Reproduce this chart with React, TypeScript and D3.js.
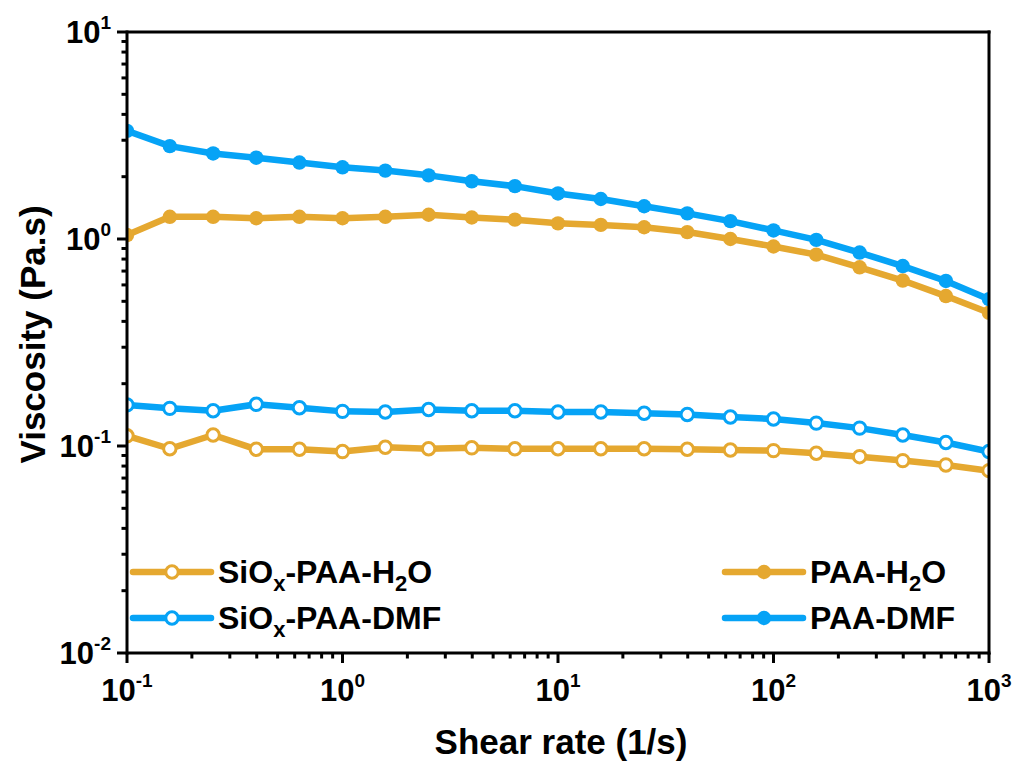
import React from "react";
import * as d3 from "d3";

const shearRates = [0.1, 0.158, 0.251, 0.398, 0.631, 1, 1.58, 2.51, 3.98, 6.31, 10, 15.8, 25.1, 39.8, 63.1, 100, 158, 251, 398, 631, 1000];

const paaDMF = [3.33, 2.81, 2.59, 2.47, 2.34, 2.22, 2.14, 2.03, 1.9, 1.8, 1.66, 1.56, 1.44, 1.33, 1.22, 1.1, 0.99, 0.86, 0.74, 0.627, 0.512];
const paaH2O = [1.045, 1.28, 1.28, 1.26, 1.28, 1.26, 1.28, 1.31, 1.27, 1.24, 1.19, 1.17, 1.14, 1.08, 1.0, 0.92, 0.84, 0.73, 0.63, 0.53, 0.44];
const siDMF = [0.158, 0.152, 0.148, 0.159, 0.153, 0.147, 0.146, 0.15, 0.148, 0.148, 0.146, 0.146, 0.144, 0.142, 0.138, 0.135, 0.129, 0.122, 0.113, 0.104, 0.094];
const siH2O = [0.112, 0.097, 0.113, 0.0964, 0.0964, 0.094, 0.0986, 0.097, 0.098, 0.097, 0.097, 0.097, 0.097, 0.0964, 0.0957, 0.095, 0.0923, 0.0888, 0.085, 0.081, 0.076];

const xTickExps = [-1, 0, 1, 2, 3];
const yTickExps = [-2, -1, 0, 1];

const ORANGE = "#E5A830";
const BLUE = "#06A3F6";
const FONT = "'Liberation Sans', Arial, Helvetica, sans-serif";

const series = [
  { name: "SiOx-PAA-H2O", values: siH2O, color: ORANGE, open: true },
  { name: "SiOx-PAA-DMF", values: siDMF, color: BLUE, open: true },
  { name: "PAA-H2O", values: paaH2O, color: ORANGE, open: false },
  { name: "PAA-DMF", values: paaDMF, color: BLUE, open: false },
];

const L = 127, R = 989, T = 32, B = 653;

export default function App() {
  const x = d3.scaleLog().domain([0.1, 1000]).range([L, R]);
  const y = d3.scaleLog().domain([0.01, 10]).range([B, T]);
  const line = d3
    .line<number>()
    .x((_, i) => x(shearRates[i]))
    .y((v) => y(v));

  const xMinor: number[] = [];
  for (let e = -1; e < 3; e++) for (let k = 2; k <= 9; k++) xMinor.push(k * Math.pow(10, e));
  const yMinor: number[] = [];
  for (let e = -2; e < 1; e++) for (let k = 2; k <= 9; k++) yMinor.push(k * Math.pow(10, e));

  const expLabel = (e: number) => (e < 0 ? "-" + Math.abs(e) : String(e));

  const marker = (cx: number, cy: number, color: string, open: boolean, key?: any) =>
    open ? (
      <circle key={key} cx={cx} cy={cy} r={6.2} fill="#fff" stroke={color} strokeWidth={3} />
    ) : (
      <circle key={key} cx={cx} cy={cy} r={7.2} fill={color} />
    );

  const SUB = 22;
  const DY = 8;
  const legendLabel = (name: string) => {
    if (name === "SiOx-PAA-H2O")
      return (
        <>
          SiO<tspan fontSize={SUB} dy={DY}>x</tspan>
          <tspan dy={-DY}>-PAA-H</tspan>
          <tspan fontSize={SUB} dy={DY}>2</tspan>
          <tspan dy={-DY}>O</tspan>
        </>
      );
    if (name === "SiOx-PAA-DMF")
      return (
        <>
          SiO<tspan fontSize={SUB} dy={DY}>x</tspan>
          <tspan dy={-DY}>-PAA-DMF</tspan>
        </>
      );
    if (name === "PAA-H2O")
      return (
        <>
          PAA-H<tspan fontSize={SUB} dy={DY}>2</tspan>
          <tspan dy={-DY}>O</tspan>
        </>
      );
    return <>{name}</>;
  };

  const legendPos = [
    { lx: 133, ly: 572 },
    { lx: 133, ly: 618 },
    { lx: 725, ly: 572 },
    { lx: 725, ly: 618 },
  ];

  return (
    <svg
      width={1017}
      height={762}
      style={{ position: "absolute", left: 0, top: 0, background: "#fff" }}
      fontFamily={FONT}
      fontWeight="bold"
    >
      <defs>
        <clipPath id="plotClip">
          <rect x={L} y={T} width={R - L} height={B - T} />
        </clipPath>
      </defs>
      <rect x={0} y={0} width={1017} height={762} fill="#fff" />

      <g clipPath="url(#plotClip)">
        {series.map((s) => (
          <g key={s.name}>
            <path d={line(s.values) || ""} fill="none" stroke={s.color} strokeWidth={6.5} strokeLinejoin="round" />
            {s.values.map((v, i) => marker(x(shearRates[i]), y(v), s.color, s.open, i))}
          </g>
        ))}
      </g>

      {/* legend */}
      {series.map((s, i) => {
        const p = legendPos[i];
        return (
          <g key={"leg" + s.name}>
            <line x1={p.lx} x2={p.lx + 78} y1={p.ly} y2={p.ly} stroke={s.color} strokeWidth={6.5} strokeLinecap="round" />
            {marker(p.lx + 39, p.ly, s.color, s.open)}
            <text x={p.lx + 85} y={p.ly + 11} fontSize={32} fill="#000">
              {legendLabel(s.name)}
            </text>
          </g>
        );
      })}

      {/* axes frame */}
      <g stroke="#000" strokeWidth={3} fill="none">
        <line x1={L} x2={R + 1.5} y1={T} y2={T} />
        <line x1={L} x2={R + 1.5} y1={B} y2={B} />
        <line x1={L} x2={L} y1={T - 1.5} y2={B + 1.5} />
        <line x1={R} x2={R} y1={T - 1.5} y2={B + 1.5} />
        {xTickExps.map((e) => (
          <line key={"xt" + e} x1={x(Math.pow(10, e))} x2={x(Math.pow(10, e))} y1={B} y2={B + 10} />
        ))}
        {xMinor.map((v) => (
          <line key={"xm" + v} x1={x(v)} x2={x(v)} y1={B} y2={B + 5.5} />
        ))}
        {yTickExps.map((e) => (
          <line key={"yt" + e} x1={L - 10} x2={L} y1={y(Math.pow(10, e))} y2={y(Math.pow(10, e))} />
        ))}
        {yMinor.map((v) => (
          <line key={"ym" + v} x1={L - 5.5} x2={L} y1={y(v)} y2={y(v)} />
        ))}
      </g>

      {/* tick labels */}
      {xTickExps.map((e) => (
        <text key={"xl" + e} x={x(Math.pow(10, e))} y={701} fontSize={31} textAnchor="middle" fill="#000">
          10<tspan fontSize={19} dy={-14}>{expLabel(e)}</tspan>
        </text>
      ))}
      {yTickExps.map((e) => (
        <text key={"yl" + e} x={111} y={y(Math.pow(10, e)) + 11} fontSize={31} textAnchor="end" fill="#000">
          10<tspan fontSize={19} dy={-14}>{expLabel(e)}</tspan>
        </text>
      ))}

      {/* axis titles */}
      <text x={(L + R) / 2 + 3} y={754} fontSize={35} textAnchor="middle" fill="#000">
        Shear rate (1/s)
      </text>
      <text transform={`translate(45, ${(T + B) / 2 - 8}) rotate(-90)`} fontSize={35} textAnchor="middle" fill="#000">
        Viscosity (Pa.s)
      </text>
    </svg>
  );
}
